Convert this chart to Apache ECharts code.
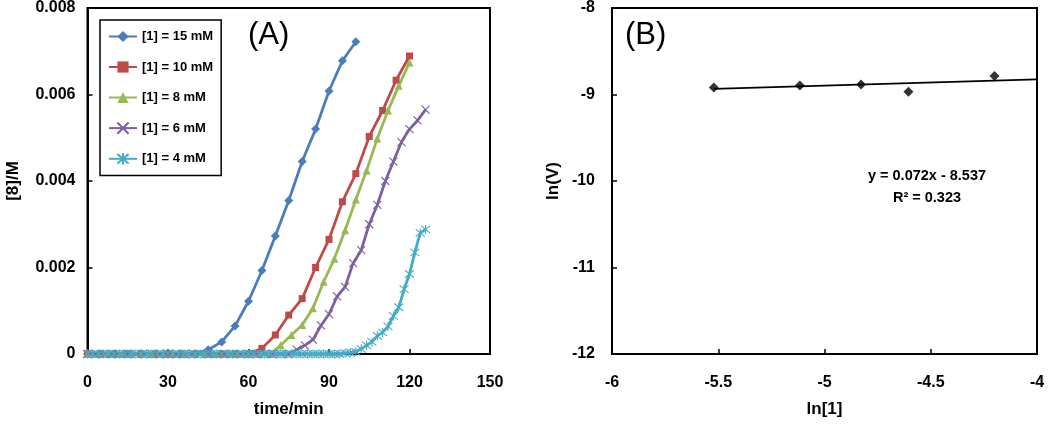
<!DOCTYPE html>
<html>
<head>
<meta charset="utf-8">
<script src="https://cdn.jsdelivr.net/npm/echarts@6/dist/echarts.min.js"></script>
<style>
html,body{margin:0;padding:0;background:#fff;}
#chart{width:1050px;height:427px;}
</style>
</head>
<body>
<div id="chart"></div>
<script>
// ---------- Panel A data ----------
const legendNames = ['[1] = 15 mM', '[1] = 10 mM', '[1] = 8 mM', '[1] = 6 mM', '[1] = 4 mM'];
const t15 = [0,5,10,15,20,25,30,35,40,45,50,55,60,65,70,75,80,85,90,95,100];
const c15 = [0,0,0,0,0,0,0,0,0,0.0001,0.00028,0.00065,0.00122,0.00193,0.00273,0.00355,0.00445,0.0052,0.00608,0.00678,0.00722];
const t10 = [0,5,10,15,20,25,30,35,40,45,50,55,60,65,70,75,80,85,90,95,100,105,110,115,120];
const c10 = [0,0,0,0,0,0,0,0,0,0,0,0,0,0.00013,0.00044,0.0009,0.00128,0.002,0.00265,0.00352,0.00417,0.00503,0.00563,0.00633,0.00689];
const t8 = [0,4,8,12,16,20,24,28,32,36,40,44,48,52,56,60,64,68,72,76,80,84,88,92,96,100,104,108,112,116,120];
const c8 = [0,0,0,0,0,0,0,0,0,0,0,0,0,0,0,0,0,0,0.0002,0.00044,0.00067,0.00106,0.00167,0.0022,0.00286,0.00357,0.00424,0.00498,0.00563,0.0062,0.00674];
const t6 = [0,3,6,9,12,15,18,21,24,27,30,33,36,39,42,45,48,51,54,57,60,63,66,69,72,75,78,81,84,87,90,93,96,99,102,105,108,111,114,117,120,123,126];
const c6 = [0,0,0,0,0,0,0,0,0,0,0,0,0,0,0,0,0,0,0,0,0,0,0,0,0,0,0.0001,0.0002,0.00033,0.00066,0.00092,0.00133,0.00155,0.0021,0.0024,0.003,0.00345,0.004,0.00445,0.0049,0.0052,0.0054,0.00565];
const t4 = [0,2,4,6,8,10,12,14,16,18,20,22,24,26,28,30,32,34,36,38,40,42,44,46,48,50,52,54,56,58,60,62,64,66,68,70,72,74,76,78,80,82,84,86,88,90,92,94,96,98,100,102,104,106,108,110,112,114,116,118,120,122,124,126];
const c4 = [0,0,0,0,0,0,0,0,0,0,0,0,0,0,0,0,0,0,0,0,0,0,0,0,0,0,0,0,0,0,0,0,0,0,0,0,0,0,0,0,0,0,0,0,0,0,0,0,0.00002,0.00003,0.00005,0.00012,0.0002,0.00028,0.00042,0.0005,0.00064,0.00088,0.00108,0.0015,0.00185,0.00235,0.0028,0.00288];
const xTicksA = [0, 30, 60, 90, 120, 150];
const yTicksA = [0, 0.002, 0.004, 0.006, 0.008];

// ---------- Panel B data ----------
const lnConc = [-5.521, -5.116, -4.828, -4.605, -4.200];
const lnV = [-8.919, -8.896, -8.884, -8.968, -8.787];
const fitSlope = 0.072, fitIntercept = -8.537;
const fitText = ['y = 0.072x - 8.537', 'R² = 0.323'];
const xTicksB = [-6, -5.5, -5, -4.5, -4];
const yTicksB = [-12, -11, -10, -9, -8];

const colors = ['#4A7EBB', '#BE4B48', '#98B954', '#7D60A0', '#46AAC5'];
const FONT = '"Liberation Sans", Arial, sans-serif';

const symX = 'path://M0,0L10,10M10,0L0,10';
const symAst = 'path://M0,0L10,10M10,0L0,10M5,-1L5,11';

function zip(a, b) { return a.map((v, i) => [v, b[i]]); }

const seriesA = [
  {t: t15, c: c15, sym: 'diamond', size: 9},
  {t: t10, c: c10, sym: 'rect', size: 7},
  {t: t8, c: c8, sym: 'triangle', size: 8},
  {t: t6, c: c6, sym: symX, size: 8},
  {t: t4, c: c4, sym: symAst, size: 9}
].map((s, i) => ({
  name: legendNames[i],
  type: 'line',
  xAxisIndex: 0, yAxisIndex: 0,
  data: zip(s.t, s.c),
  symbol: s.sym,
  symbolSize: s.size,
  showAllSymbol: true,
  clip: false,
  lineStyle: {color: colors[i], width: 2.8},
  itemStyle: {color: colors[i], borderColor: colors[i], borderWidth: (i >= 3 ? 1.1 : 0)},
  emphasis: {disabled: true},
  animation: false
}));

const axisCommon = {
  axisLine: {show: true, lineStyle: {color: '#000', width: 2}},
  axisTick: {show: true, inside: true, length: 5, lineStyle: {color: '#000', width: 1.5}},
  splitLine: {show: false},
  axisLabel: {color: '#000', fontWeight: 'bold', fontSize: 16, fontFamily: FONT},
  nameTextStyle: {color: '#000', fontWeight: 'bold', fontSize: 17, fontFamily: FONT},
  nameLocation: 'middle'
};

const fitX0 = Math.min.apply(null, lnConc);
const fitX1 = xTicksB[xTicksB.length - 1];

const option = {
  animation: false,
  backgroundColor: '#fff',
  grid: [
    {left: 87.5, right: 560, top: 7, bottom: 73, show: true, borderColor: '#000', borderWidth: 2, backgroundColor: 'transparent'},
    {left: 612, right: 13, top: 7, bottom: 73, show: true, borderColor: '#000', borderWidth: 2, backgroundColor: 'transparent'}
  ],
  legend: {
    data: legendNames,
    orient: 'vertical',
    left: 100, top: 20,
    padding: [10, 8, 10, 8],
    itemGap: 17.5,
    itemWidth: 28, itemHeight: 14,
    borderColor: '#000', borderWidth: 1.5,
    backgroundColor: '#fff',
    textStyle: {color: '#000', fontWeight: 'bold', fontSize: 13, fontFamily: FONT},
    selectedMode: false
  },
  xAxis: [
    Object.assign({}, axisCommon, {
      gridIndex: 0, type: 'value', min: xTicksA[0], max: xTicksA[xTicksA.length - 1], interval: 30,
      name: 'time/min', nameGap: 47,
      axisLabel: Object.assign({}, axisCommon.axisLabel, {margin: 21})
    }),
    Object.assign({}, axisCommon, {
      gridIndex: 1, type: 'value', min: xTicksB[0], max: xTicksB[xTicksB.length - 1], interval: 0.5,
      name: 'ln[1]', nameGap: 47,
      axisLabel: Object.assign({}, axisCommon.axisLabel, {margin: 21})
    })
  ],
  yAxis: [
    Object.assign({}, axisCommon, {
      gridIndex: 0, type: 'value', min: yTicksA[0], max: yTicksA[yTicksA.length - 1], interval: 0.002,
      name: '[8]/M', nameGap: 66,
      axisLabel: Object.assign({}, axisCommon.axisLabel, {margin: 12, formatter: v => v === 0 ? '0' : v.toFixed(3)})
    }),
    Object.assign({}, axisCommon, {
      gridIndex: 1, type: 'value', min: yTicksB[0], max: yTicksB[yTicksB.length - 1], interval: 1,
      name: 'ln(V)', nameGap: 50,
      axisLabel: Object.assign({}, axisCommon.axisLabel, {margin: 17})
    })
  ],
  series: seriesA.concat([
    {
      name: 'fit', type: 'line', xAxisIndex: 1, yAxisIndex: 1,
      data: [[fitX0, fitSlope * fitX0 + fitIntercept], [fitX1, fitSlope * fitX1 + fitIntercept]],
      symbol: 'none', lineStyle: {color: '#000', width: 1.8}, emphasis: {disabled: true}
    },
    {
      name: 'lnV', type: 'scatter', xAxisIndex: 1, yAxisIndex: 1,
      data: zip(lnConc, lnV),
      symbol: 'diamond', symbolSize: 10,
      itemStyle: {color: '#000'}, emphasis: {disabled: true}
    }
  ]),
  graphic: [
    {type: 'text', left: 248, top: 20, style: {text: '(A)', font: '31px ' + FONT, fill: '#000'}},
    {type: 'text', left: 625, top: 20, style: {text: '(B)', font: '31px ' + FONT, fill: '#000'}},
    {type: 'text', x: 927, y: 176, style: {text: fitText[0], font: 'bold 14.5px ' + FONT, fill: '#000', align: 'center', verticalAlign: 'middle'}},
    {type: 'text', x: 927, y: 198, style: {text: fitText[1], font: 'bold 14.5px ' + FONT, fill: '#000', align: 'center', verticalAlign: 'middle'}}
  ]
};

const chart = echarts.init(document.getElementById('chart'), null, {renderer: 'canvas'});
chart.setOption(option);
</script>
</body>
</html>
